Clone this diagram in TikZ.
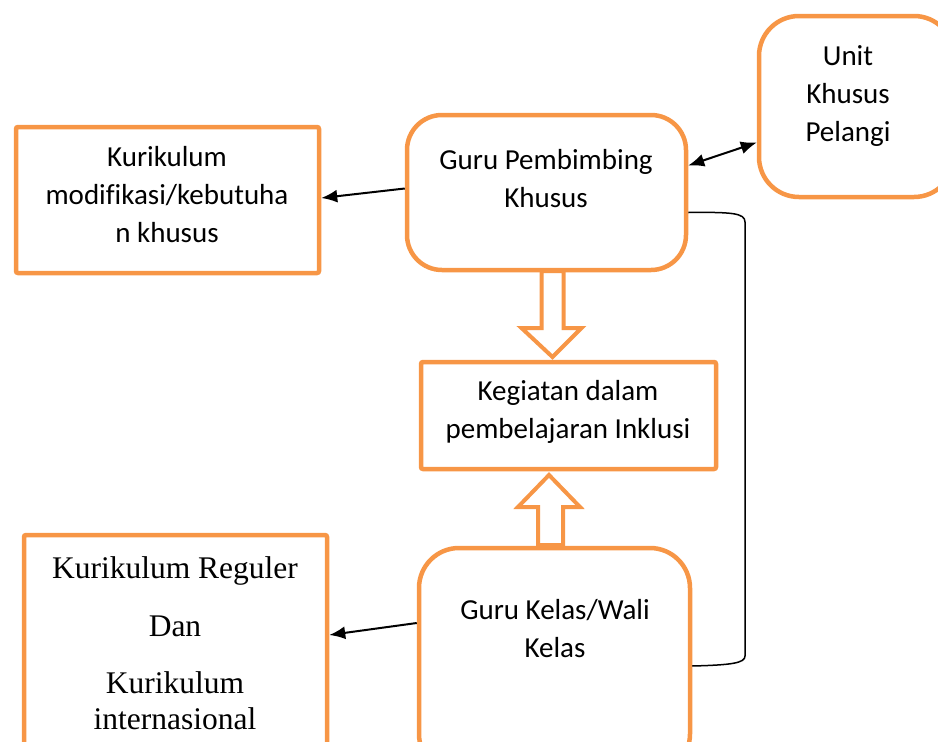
\documentclass[tikz,border=0pt]{standalone}
\usepackage{fontspec}
\setmainfont{Carlito}[Ligatures={NoCommon}]
\newfontfamily\timesfont{Liberation Serif}
\usetikzlibrary{arrows.meta}
\definecolor{orng}{HTML}{F79646}
\tikzset{
  sqbox/.style={draw=orng, line width=4.5pt, rounded corners=2pt, inner sep=0pt},
  rdbox/.style={draw=orng, line width=4.5pt, inner sep=0pt},
  txt/.style={align=center, font=\fontsize{29}{38}\selectfont, inner sep=0pt},
  arr/.style={-{Latex[length=16pt,width=13pt]}, line width=2pt, black},
  darr/.style={{Latex[length=16pt,width=13pt]}-{Latex[length=16pt,width=13pt]}, line width=2pt, black},
  hollow/.style={draw=orng, line width=4pt, fill=white, line join=miter},
  bracket/.style={draw=black, line width=1.5pt}
}
\begin{document}
\begin{tikzpicture}[x=1pt,y=-1pt]
\useasboundingbox (0,0) rectangle (938,742);
% boxes
\node[sqbox, minimum width=303pt, minimum height=146pt] (mod) at (167.5,200) {};
\node[rdbox, rounded corners=35pt, minimum width=279pt, minimum height=155pt] (gpk) at (546.5,192.5) {};
\node[rdbox, rounded corners=40pt, minimum width=195pt, minimum height=181pt] (unit) at (856.5,106.5) {};
\node[sqbox, minimum width=295pt, minimum height=107pt] (keg) at (568.5,415.5) {};
\node[rdbox, rounded corners=40pt, minimum width=271pt, minimum height=226pt] (gk) at (554.5,661) {};
\node[sqbox, minimum width=303pt, minimum height=250pt] (kr) at (175.5,660) {};
% texts
\node[txt] (tmod) at (167,195) {Kurikulum\\modif\kern0pt ikasi/kebutuha\\n khusus};
\node[txt] (tgpk) at (546,179) {Guru Pembimbing\\Khusus};
\node[txt] (tunit) at (848,96) {Unit\\Khusus\\Pelangi};
\node[txt] (tkeg) at (568,412) {Kegiatan dalam\\pembelajaran Inklusi};
\node[txt] (tgk) at (555,629) {Guru Kelas/Wali\\Kelas};
\node[align=center, inner sep=0pt, font=\timesfont\fontsize{31.5}{36}\selectfont] (tkr) at (175,643)
  {Kurikulum Reguler\\[22pt]Dan\\[21pt]Kurikulum\\internasional};
% hollow block arrows
\draw[hollow] (541.5,271) -- (563.5,271) -- (563.5,328) -- (581.5,328) -- (552.5,357) -- (521.5,328) -- (541.5,328) -- cycle;
\draw[hollow] (538,545) -- (563,545) -- (563,507) -- (580,507) -- (549,475) -- (518,507) -- (538,507) -- cycle;
% connectors
\draw[arr] ([yshift=4pt]gpk.west) -- ([yshift=2pt]mod.east);
\draw[darr] ([yshift=27pt]gpk.east) -- ([yshift=-36pt]unit.west);
\draw[arr] ([yshift=38pt]gk.west) -- ([yshift=25pt]kr.east);
\draw[bracket] ([yshift=-20pt]gpk.east) .. controls (732,212) and (745,213) .. (745,222)
  -- (745,656) .. controls (745,663) and (732,665) .. ([yshift=-5pt]gk.east);
\end{tikzpicture}
\end{document}
